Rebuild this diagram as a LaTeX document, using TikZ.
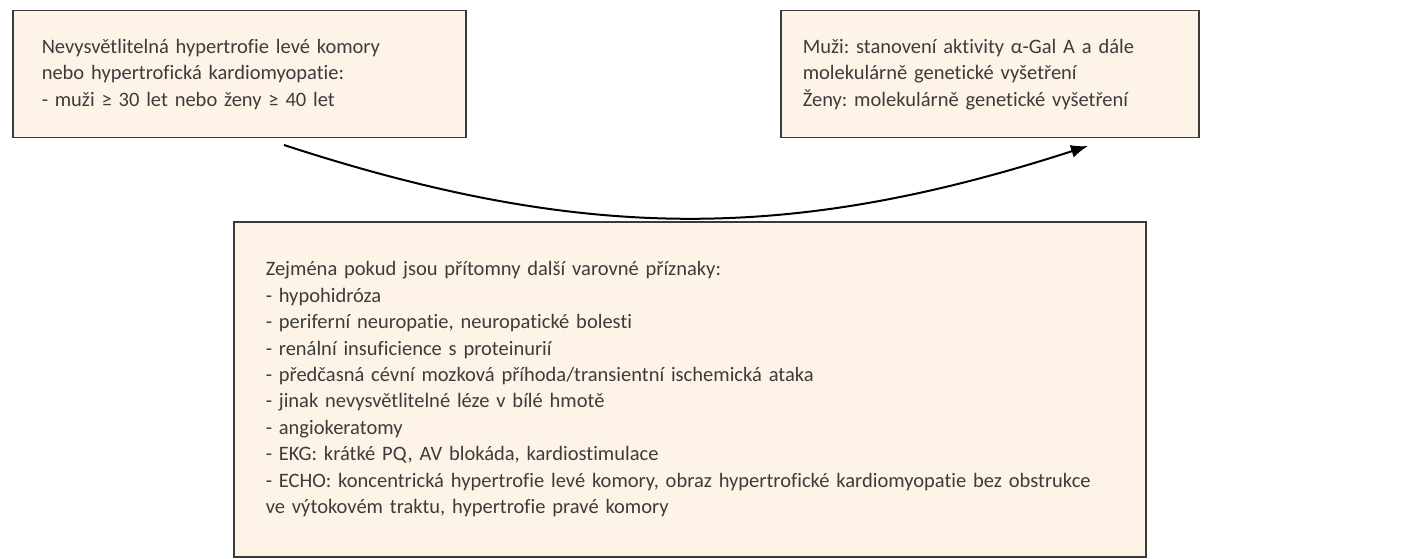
\documentclass[tikz,border=0pt]{standalone}
\usepackage{fontspec}
\setmainfont{Carlito}[Ligatures=NoCommon]
\usetikzlibrary{arrows.meta}
\definecolor{boxfill}{HTML}{FEF3E7}
\definecolor{boxline}{HTML}{3A3A3A}
\definecolor{boxtext}{HTML}{3C3C3C}
\frenchspacing

\begin{document}
\begin{tikzpicture}[
  x=1pt, y=-1pt,
  box/.style={draw=boxline, line width=1.5pt, fill=boxfill, text=boxtext, align=left,
    anchor=north west, inner ysep=0pt, font=\fontsize{20.5}{26.4}\selectfont},
  flow/.style={-{Latex[length=17pt,width=13pt]}, line width=2pt}
]
\useasboundingbox (0,0) rectangle (1405,559);

% upper row
\node[box, inner xsep=29pt, text width=395pt, minimum height=127pt] (indication) at (12,10)
  {Nevysvětlitelná hypertrofie levé komory\\
   nebo hypertrofická kardiomyopatie:\\
   - muži ≥ 30 let nebo ženy ≥ 40 let};
\node[box, inner xsep=22pt, text width=374pt, minimum height=127pt] (testing) at (780,10)
  {Muži: stanovení aktivity α-Gal A a dále\\
   molekulárně genetické vyšetření\\
   Ženy: molekulárně genetické vyšetření};

% lower box
\node[box, inner xsep=32pt, text width=848pt, minimum height=335pt] (signs) at (233,221)
  {Zejména pokud jsou přítomny další varovné příznaky:\\
   - hypohidróza\\
   - periferní neuropatie, neuropatické bolesti\\
   - renální insuficience s proteinurií\\
   - předčasná cévní mozková příhoda/transientní ischemická ataka\\
   - jinak nevysvětlitelné léze v bílé hmotě\\
   - angiokeratomy\\
   - EKG: krátké PQ, AV blokáda, kardiostimulace\\
   - ECHO: koncentrická hypertrofie levé komory, obraz hypertrofické kardiomyopatie bez obstrukce\\
   ve výtokovém traktu, hypertrofie pravé komory};

\coordinate (from) at (284,145);
\coordinate (to) at (1088,146);
\draw[flow] (from) to[bend right=18] (to);
\end{tikzpicture}
\end{document}
